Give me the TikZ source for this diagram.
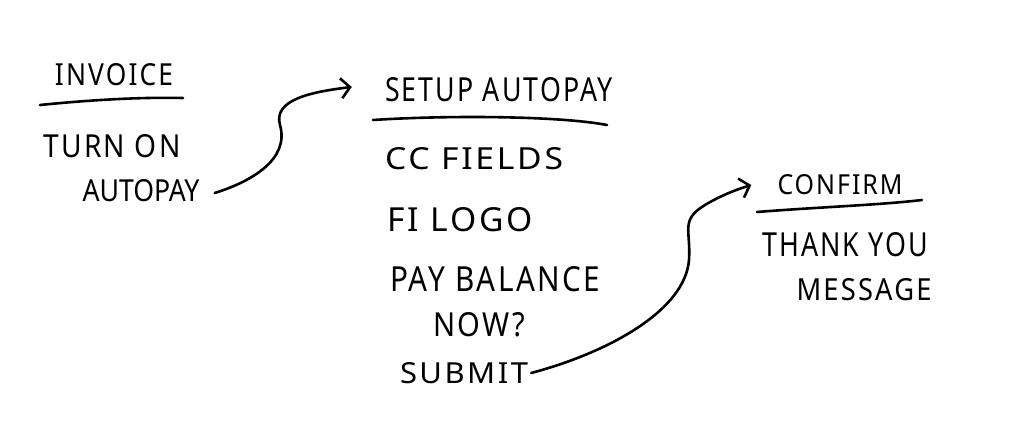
\documentclass[tikz,border=0pt]{standalone}
\usepackage{fontspec}
\usepackage{graphicx}
\setmainfont{Noto Sans}
\newfontfamily\widefont{Noto Sans}[LetterSpace=8]
\usetikzlibrary{arrows.meta}
\newcommand\handtext[3]{\resizebox{#1pt}{#2pt}{#3}}
\newcommand\handwide[3]{\resizebox{#1pt}{#2pt}{\widefont #3}}
\tikzset{
  hand/.style={inner sep=0pt, font=\fontsize{30}{36}\selectfont},
  pen/.style={line width=2.6pt, line cap=round, line join=round},
  flow/.style={pen, -{Straight Barb[length=9pt,width=20pt,line width=2.6pt]}}
}
\begin{document}
\begin{tikzpicture}[x=1pt,y=-1pt]
\useasboundingbox (0,0) rectangle (1028,430);
% left column
\node[hand] (invoice) at (114,75) {\handwide{118}{22}{INVOICE}};
\draw[pen] (40,105) .. controls (90,100) and (140,97) .. (183,98);
\node[hand] (turnon) at (112,146) {\handwide{137}{23}{TURN ON}};
\node[hand] (autopay) at (141,191) {\handtext{117}{22}{AUTOPAY}};
% middle column
\node[hand] (setup) at (499,90) {\handwide{228}{24}{SETUP AUTOPAY}};
\draw[pen] (373,120) .. controls (450,115) and (560,116) .. (607,125);
\node[hand] (cc) at (474,159) {\handwide{178}{22}{CC FIELDS}};
\node[hand] (fi) at (460,220) {\handwide{145}{24}{FI LOGO}};
\node[hand] (pay) at (495,279) {\handwide{210}{25}{PAY BALANCE}};
\node[hand] (now) at (479,325) {\handwide{92}{24}{NOW?}};
\node[hand] (submit) at (464,373) {\handwide{128}{21}{SUBMIT}};
% right column
\node[hand] (confirm) at (840,185) {\handwide{125}{20}{CONFIRM}};
\draw[pen] (757,212) .. controls (820,207) and (880,205) .. (922,200);
\node[hand] (thank) at (845,245) {\handwide{166}{24}{THANK YOU}};
\node[hand] (message) at (864,290) {\handwide{135}{22}{MESSAGE}};
% connectors
\draw[flow] ([xshift=15pt,yshift=-2pt]autopay.east) .. controls (250,182) and (290,160) .. (280,125)
  .. controls (273,100) and (310,92) .. ([xshift=-33pt,yshift=3pt]setup.west);
\draw[flow] ([xshift=3pt]submit.east) .. controls (610,352) and (685,310) .. (689,260)
  .. controls (691,230) and (680,220) .. (705,205)
  .. controls (720,196) and (735,190) .. ([xshift=-26pt]confirm.west);
\end{tikzpicture}
\end{document}
